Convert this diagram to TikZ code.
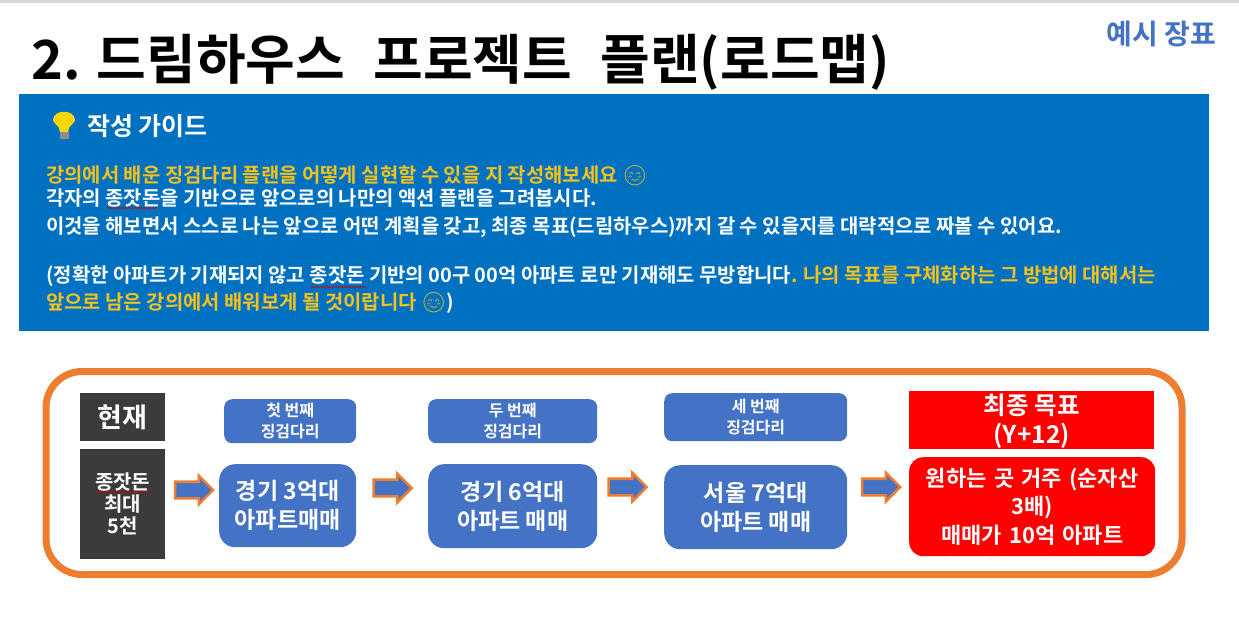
\documentclass[tikz,border=0pt]{standalone}
\usepackage{fontspec}
\setmainfont{Noto Sans CJK KR Bold}
\newfontfamily\emojifont{Noto Emoji}
\usetikzlibrary{shapes.arrows,decorations.pathmorphing}
\definecolor{guideblue}{HTML}{0070C0}
\definecolor{stepblue}{HTML}{4472C4}
\definecolor{ringorange}{HTML}{ED7D31}
\definecolor{darkbox}{HTML}{3B3B3B}
\definecolor{guideyellow}{HTML}{F2C21F}
\definecolor{goalred}{HTML}{FF0000}
\newcommand{\fs}[1]{\fontsize{#1}{#1}\selectfont}
\newcommand{\lowered}[1]{\raisebox{-9pt}[0pt][0pt]{#1}}
\tikzset{
  px/.style={x=1pt,y=-1pt},
  dark/.style={fill=darkbox,text=white,align=center,inner sep=0pt,anchor=north west},
  stepbox/.style={fill=stepblue,text=white,align=center,inner sep=0pt,rounded corners=#1,anchor=north west},
  stepbox/.default=16pt,
  goal/.style={fill=goalred,text=white,align=center,inner sep=0pt,anchor=north west},
  guide/.style={anchor=base west,inner sep=0pt,text=white,font=\fs{19.9}},
  blockarrow/.style={single arrow,fill=stepblue,draw=ringorange,line width=2.6pt,minimum height=38pt,single arrow head extend=6pt,single arrow tip angle=90,inner sep=0pt,text width=0pt},
  squiggle/.style={draw=red!80!black,line width=.6pt,decorate,decoration={snake,amplitude=.7pt,segment length=3pt}},
}
\newcommand{\sm}{{\emojifont\char"1F60A}}
\newcommand{\shaft}{\rule{0pt}{14pt}}
\begin{document}
\begin{tikzpicture}[px]
\useasboundingbox (0,0) rectangle (1239,621);
\fill[white] (0,0) rectangle (1239,621);
\fill[black!15] (0,0) rectangle (1239,2.5);
% title
\node[anchor=base west,inner sep=0pt,font=\fs{54}] (title) at (31,79) {2. 드림하우스\hspace{16pt} 프로젝트\hspace{16pt} 플랜(로드맵)};
\node[anchor=base east,inner sep=0pt,text=stepblue,font=\fs{28}] (sample) at (1216,44) {예시 장표};
% guide panel
\node[fill=guideblue,anchor=north west,inner sep=0pt,minimum width=1190pt,minimum height=237pt] (panel) at (19,94) {};
% light bulb icon
\fill[black!45] (59.5,131) rectangle (68.5,139);
\fill[yellow!75!orange] (60,132) .. controls (60,125) and (53,124) .. (53,120) .. controls (53,109) and (75,109) .. (75,120) .. controls (75,124) and (68,125) .. (68,132) -- cycle;
\node[guide,font=\fs{25}] (gtitle) at (87,135) {작성 가이드};
\node[guide,text=guideyellow] (l1) at (46,182) {강의에서 배운 징검다리 플랜을 어떻게 실현할 수 있을 지 작성해보세요 \sm};
\node[guide] (l2) at (46,205) {각자의 종잣돈을 기반으로 앞으로의 나만의 액션 플랜을 그려봅시다.};
\node[guide] (l3) at (46,233) {이것을 해보면서 스스로 나는 앞으로 어떤 계획을 갖고, 최종 목표(드림하우스)까지 갈 수 있을지를 대략적으로 짜볼 수 있어요.};
\node[guide] (l4) at (46,282) {(정확한 아파트가 기재되지 않고 종잣돈 기반의 00구 00억 아파트 로만 기재해도 무방합니다\textcolor{guideyellow}{. 나의 목표를 구체화하는 그 방법에 대해서는}};
\node[guide] (l5) at (46,309) {\textcolor{guideyellow}{앞으로 남은 강의에서 배워보게 될 것이랍니다 \sm}{)}};
\draw[squiggle] (107,208) -- (157,208);
\draw[squiggle] (311,287) -- (366,287);
% roadmap ring
\node[draw=ringorange,line width=7pt,rounded corners=36pt,anchor=north west,inner sep=0pt,outer sep=0pt,minimum width=1136pt,minimum height=203pt] (ring) at (46,371.5) {};
% columns
\node[dark,minimum width=85pt,minimum height=48pt,font=\fs{27}] (now) at (80,393) {현재};
\node[dark,minimum width=85pt,minimum height=110pt,font=\fs{20},text width=85pt] (seed) at (80,449) {종잣돈\\[2pt]최대\\[2pt]5천};
\draw[squiggle] (96,492) -- (151,492);
\node[stepbox=8pt,minimum width=132pt,minimum height=44pt,font=\fs{16}] (s1h) at (224,399) {첫 번째\\[5pt]징검다리};
\node[stepbox=8pt,minimum width=169pt,minimum height=44pt,font=\fs{16}] (s2h) at (428,399) {두 번째\\[5pt]징검다리};
\node[stepbox=8pt,minimum width=183pt,minimum height=48pt,font=\fs{16}] (s3h) at (664,393) {세 번째\\[5pt]징검다리};
\node[stepbox,minimum width=137pt,minimum height=83pt,font=\fs{23}] (s1) at (219,464) {경기 3억대\\[6pt]아파트매매};
\node[stepbox,minimum width=169pt,minimum height=84pt,font=\fs{23}] (s2) at (428,464) {경기 6억대\\[6pt]아파트 매매};
\node[stepbox,minimum width=183pt,minimum height=84pt,font=\fs{23}] (s3) at (664,465) {서울 7억대\\[6pt]아파트 매매};
\node[goal,minimum width=245pt,minimum height=58pt,font=\fs{24.5}] (goalh) at (909,391) {\lowered{최종 목표}\\[5pt]\lowered{(Y+12)}};
\node[goal,rounded corners=14pt,minimum width=246pt,minimum height=99pt,font=\fs{22},text width=240pt] (goal) at (909,457) {원하는 곳 거주 (순자산\\[5pt]3배)\\[5pt]매매가 10억 아파트};
% arrows
\node[blockarrow] (a1) at (190,490) {\shaft};
\node[blockarrow] (a2) at (388.5,488) {\shaft};
\node[blockarrow] (a3) at (623.5,487) {\shaft};
\node[blockarrow] (a4) at (877,487) {\shaft};
\end{tikzpicture}
\end{document}
